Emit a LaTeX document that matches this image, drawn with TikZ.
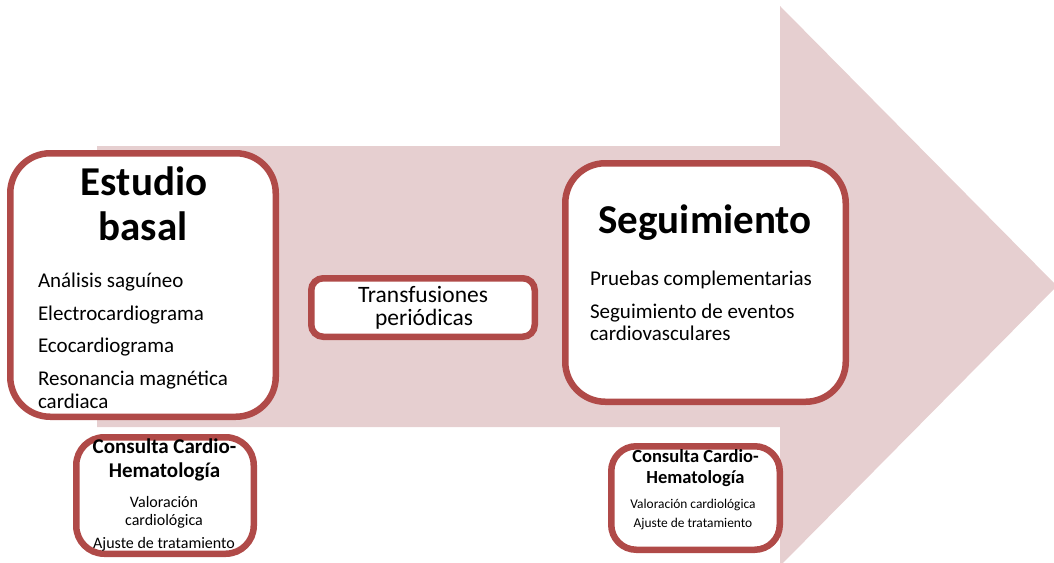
\documentclass[tikz,border=0pt]{standalone}
\usepackage{fontspec}
\setmainfont{Carlito}
\usetikzlibrary{shadows}
\definecolor{cardred}{RGB}{176,74,72}
\definecolor{arrowpink}{RGB}{230,207,208}
\begin{document}
\begin{tikzpicture}[x=1pt,y=-1pt]
\tikzstyle{box} = [draw=cardred, line width=6.5pt, fill=white, inner sep=0, rounded corners=40pt,
  drop shadow={shadow xshift=1.5pt, shadow yshift=-2.5pt, opacity=0.25, fill=black}]
\tikzstyle{txt} = [inner sep=0, outer sep=0, anchor=base, text=black]
\tikzstyle{item} = [txt, anchor=base west, font=\fontsize{21}{25}\selectfont]
\tikzstyle{title} = [txt, font=\fontsize{41}{45}\selectfont\bfseries]
\useasboundingbox (0,0) rectangle (1054,562);
    \fill[arrowpink] (97,146) -- (780,146) -- (780,6) -- (1057,286) -- (780,566) -- (780,427) -- (97,427) -- cycle;

\node [box, minimum width=265.5pt, minimum height=263.5pt] (basal) at (143,285) {};
\node [box, minimum width=223.5pt, minimum height=58.5pt, rounded corners=12pt] (transf) at (423,307.5) {};
\node [box, minimum width=280.5pt, minimum height=238.5pt] (seguim) at (705.5,282.5) {};
\node [box, minimum width=177.5pt, minimum height=116.5pt, rounded corners=28pt] (consA) at (165,495.5) {};
\node [box, minimum width=168.5pt, minimum height=103.5pt, rounded corners=25pt] (consB) at (695.5,498) {};

\node [title] (tEst) at (144,195) {Estudio};
\node [title] (tBas) at (143,240) {basal};
\foreach \txt/\yy [count=\i] in {Análisis saguíneo/287, Electrocardiograma/320, Ecocardiograma/352,
    Resonancia magnética/385, cardiaca/408}
{
	\node [item] (b\i) at (38,\yy) {\txt};
}

\node [txt, font=\fontsize{23.5}{23}\selectfont] (tr1) at (423,302) {Transfusiones};
\node [txt, font=\fontsize{23.5}{23}\selectfont] (tr2) at (424,325) {periódicas};

\node [title] (tSeg) at (705,233) {Seguimiento};
\foreach \txt/\yy [count=\i] in {Pruebas complementarias/285, Seguimiento de eventos/318, cardiovasculares/340}
{
	\node [item] (s\i) at (590,\yy) {\txt};
}

\node [txt, font=\fontsize{21}{24}\selectfont\bfseries] (cA1) at (164.5,453) {Consulta Cardio-};
\node [txt, font=\fontsize{21}{24}\selectfont\bfseries] (cA2) at (164.5,477) {Hematología};
\node [txt, font=\fontsize{16}{18}\selectfont] (cA3) at (164,507) {Valoración};
\node [txt, font=\fontsize{16}{18}\selectfont] (cA4) at (164,525) {cardiológica};
\node [txt, font=\fontsize{16}{18}\selectfont] (cA5) at (164,548) {Ajuste de tratamiento};

\node [txt, font=\fontsize{18.5}{21}\selectfont\bfseries] (cB1) at (695.5,462) {Consulta Cardio-};
\node [txt, font=\fontsize{18.5}{21}\selectfont\bfseries] (cB2) at (695.5,483) {Hematología};
\node [txt, font=\fontsize{13.4}{16}\selectfont] (cB3) at (693,508) {Valoración cardiológica};
\node [txt, font=\fontsize{13.4}{16}\selectfont] (cB4) at (693,527) {Ajuste de tratamiento};
\end{tikzpicture}
\end{document}
